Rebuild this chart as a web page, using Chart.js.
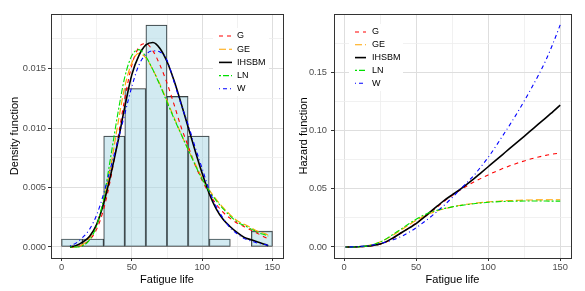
<!DOCTYPE html>
<html>
<head>
<meta charset="utf-8">
<script src="https://cdn.jsdelivr.net/npm/chart.js@4.4.1/dist/chart.umd.min.js"></script>
<style>
  body { margin: 0; background: #fff; }
  #wrap { position: relative; width: 585px; height: 291px; }
  canvas { position: absolute; top: 0; }
  #density { left: 0; }
  #hazard { left: 290px; }
</style>
</head>
<body>
<div id="wrap">
  <canvas id="density" width="290" height="291"></canvas>
  <canvas id="hazard" width="295" height="291"></canvas>
</div>
<script>
// histogram (bin width 15)
const binMids = [7.5, 22.5, 37.5, 52.5, 67.5, 82.5, 97.5, 112.5, 127.5, 142.5];
const binDensity = [0.00067, 0.00067, 0.00933, 0.01333, 0.01867, 0.01267, 0.00933, 0.00067, 0, 0.00133];

// fitted densities
const densX = [6, 10, 15, 20, 25, 30, 35, 40, 45, 50, 55, 60, 65, 70, 75, 80, 85, 90, 95, 100, 105, 110, 115, 120, 125, 130, 135, 140, 145, 147];
const densG = [0, 0, 0.0002, 0.0006, 0.0015, 0.0032, 0.0058, 0.0091, 0.0125, 0.0153, 0.0168, 0.0171, 0.0165, 0.0153, 0.0138, 0.0120, 0.0101, 0.0085, 0.0069, 0.0056, 0.0045, 0.0036, 0.0029, 0.0024, 0.0020, 0.0017, 0.0014, 0.0011, 0.0008, 0.0007];
const densGE = [0, 0, 0.0002, 0.0008, 0.0019, 0.0039, 0.0068, 0.0103, 0.0135, 0.0155, 0.0163, 0.0159, 0.0149, 0.0137, 0.0123, 0.0109, 0.0095, 0.0082, 0.0070, 0.0058, 0.0048, 0.0040, 0.0033, 0.0027, 0.0022, 0.0019, 0.0016, 0.0013, 0.0011, 0.0010];
const densIHSBM = [0, 0.0001, 0.0004, 0.0009, 0.0019, 0.0037, 0.0061, 0.0088, 0.0118, 0.0145, 0.0161, 0.0170, 0.0172, 0.0167, 0.0156, 0.0140, 0.0121, 0.0101, 0.0081, 0.0062, 0.0045, 0.0032, 0.0023, 0.0017, 0.0012, 0.0008, 0.0006, 0.0004, 0.0002, 0.0001];
const densLN = [0, 0, 0.0001, 0.0006, 0.0018, 0.0041, 0.0076, 0.0112, 0.0143, 0.0161, 0.0166, 0.0160, 0.0149, 0.0136, 0.0122, 0.0108, 0.0095, 0.0082, 0.0069, 0.0057, 0.0047, 0.0039, 0.0032, 0.0026, 0.0021, 0.0018, 0.0015, 0.0012, 0.0010, 0.0009];
const densW = [0.0001, 0.0003, 0.0008, 0.0015, 0.0027, 0.0045, 0.0067, 0.0089, 0.0112, 0.0135, 0.0153, 0.0162, 0.0165, 0.0164, 0.0157, 0.0139, 0.0120, 0.0103, 0.0084, 0.0066, 0.0048, 0.0034, 0.0024, 0.0016, 0.0011, 0.0007, 0.0005, 0.0003, 0.0002, 0.0001];

// hazard functions
const hazX = [1, 5, 10, 15, 20, 25, 30, 35, 40, 45, 50, 55, 60, 65, 70, 75, 80, 85, 90, 95, 100, 105, 110, 115, 120, 125, 130, 135, 140, 145, 150];
const hazG = [0, 0, 0.0001, 0.0004, 0.0011, 0.0023, 0.0046, 0.0082, 0.0122, 0.0163, 0.0205, 0.0250, 0.0298, 0.0347, 0.0398, 0.0442, 0.0485, 0.0523, 0.0558, 0.0590, 0.0620, 0.0648, 0.0674, 0.0698, 0.0720, 0.0740, 0.0758, 0.0774, 0.0788, 0.0799, 0.0808];
const hazGE = [0, 0, 0.0003, 0.0010, 0.0022, 0.0042, 0.0072, 0.0110, 0.0150, 0.0190, 0.0228, 0.0262, 0.0290, 0.0312, 0.0330, 0.0345, 0.0357, 0.0367, 0.0375, 0.0382, 0.0388, 0.0392, 0.0396, 0.0399, 0.0401, 0.0403, 0.0404, 0.0405, 0.0405, 0.0406, 0.0406];
const hazIHSBM = [0, 0, 0.0002, 0.0006, 0.0013, 0.0025, 0.0050, 0.0086, 0.0124, 0.0162, 0.0200, 0.0250, 0.0303, 0.0355, 0.0405, 0.0448, 0.0490, 0.0537, 0.0585, 0.0638, 0.0690, 0.0742, 0.0795, 0.0848, 0.0900, 0.0952, 0.1005, 0.1058, 0.1110, 0.1165, 0.1220];
const hazLN = [0, 0, 0.0001, 0.0007, 0.0020, 0.0042, 0.0076, 0.0117, 0.0158, 0.0200, 0.0238, 0.0272, 0.0298, 0.0317, 0.0332, 0.0345, 0.0355, 0.0364, 0.0372, 0.0378, 0.0384, 0.0388, 0.0391, 0.0393, 0.0394, 0.0395, 0.0395, 0.0395, 0.0395, 0.0394, 0.0394];
const hazW = [0, 0.0001, 0.0004, 0.0010, 0.0018, 0.0030, 0.0046, 0.0066, 0.0092, 0.0125, 0.0165, 0.0210, 0.0258, 0.0310, 0.0365, 0.0425, 0.0487, 0.0550, 0.0614, 0.0690, 0.0770, 0.0860, 0.0955, 0.1050, 0.1150, 0.1255, 0.1365, 0.1480, 0.1605, 0.1750, 0.1910];

// axis breaks (major + minor)
const xTicks = [0, 25, 50, 75, 100, 125, 150];
const densTicks = [0, 0.0025, 0.005, 0.0075, 0.01, 0.0125, 0.015, 0.0175];
const hazTicks = [0, 0.025, 0.05, 0.075, 0.1, 0.125, 0.15, 0.175];

const models = ['G', 'GE', 'IHSBM', 'LN', 'W'];

Chart.defaults.font.family = '"Liberation Sans", Arial, sans-serif';
Chart.defaults.animation = false;

const styles = {
  G: { color: '#ff0000', dash: [4, 4], width: 1.1 },
  GE: { color: '#ffa500', dash: [7, 3], width: 1.1 },
  IHSBM: { color: '#000000', dash: [], width: 1.6 },
  LN: { color: '#00e000', dash: [2, 2, 6, 2], width: 1.1 },
  W: { color: '#0000ff', dash: [1, 3, 4, 3], width: 1.1 }
};

function curve(name, xs, ys, idx) {
  const s = styles[name];
  return {
    type: 'line',
    label: name,
    data: xs.map((x, i) => ({ x: x, y: ys[i] })),
    borderColor: s.color,
    borderDash: s.dash,
    borderWidth: s.width,
    pointRadius: 0,
    fill: false,
    cubicInterpolationMode: 'monotone',
    order: 5 - idx
  };
}

function isMul(v, step) {
  const r = v / step;
  return Math.abs(r - Math.round(r)) < 1e-6;
}

function isMajor(c, step) {
  return !c.tick || isMul(c.tick.value, step);
}

function gridOpts(step) {
  return {
    offset: false,
    color: c => isMajor(c, step) ? '#dedede' : '#eeeeee',
    lineWidth: c => isMajor(c, step) ? 1 : 0.8,
    tickColor: c => isMajor(c, step) ? '#333333' : 'rgba(0,0,0,0)',
    tickLength: 3
  };
}

function makeScales(o) {
  return {
    x: {
      type: 'linear', min: o.xMin, max: o.xMax, offset: false,
      afterBuildTicks: s => { s.ticks = xTicks.map(v => ({ value: v })); },
      afterFit: s => { s.height = 33; },
      ticks: {
        autoSkip: false, maxRotation: 0, padding: 1,
        color: '#4d4d4d', font: { size: 9.3 },
        callback: v => isMul(v, 50) ? String(v) : ''
      },
      grid: gridOpts(50),
      border: { display: false },
      title: { display: true, text: 'Fatigue life', color: '#000', font: { size: 11 }, padding: { top: 0, bottom: 4 } }
    },
    y: {
      type: 'linear', min: o.yMin, max: o.yMax,
      afterBuildTicks: s => { s.ticks = o.yTicks.map(v => ({ value: v })); },
      afterFit: s => { s.width = o.yWidth; },
      ticks: {
        autoSkip: false, padding: o.yPad,
        color: '#4d4d4d', font: { size: 9.3 },
        callback: v => isMul(v, o.yStep) ? v.toFixed(o.yDigits) : ''
      },
      grid: gridOpts(o.yStep),
      border: { display: false },
      title: { display: true, text: o.yTitle, color: '#000', font: { size: 11 }, padding: { top: o.titlePad, bottom: 0 } }
    }
  };
}

// legend drawn inside the panel, ggplot style
const insideLegend = {
  id: 'insideLegend',
  afterDraw(chart, args, opts) {
    const ctx = chart.ctx;
    const items = chart.data.datasets.filter(d => d.type === 'line');
    ctx.save();
    ctx.fillStyle = '#ffffff';
    ctx.fillRect(opts.boxX, opts.boxY, opts.boxW, opts.boxH);
    ctx.font = '9px "Liberation Sans", Arial, sans-serif';
    ctx.textBaseline = 'middle';
    items.forEach((d, i) => {
      const y = opts.y0 + i * opts.step;
      ctx.beginPath();
      ctx.setLineDash(d.borderDash);
      ctx.strokeStyle = d.borderColor;
      ctx.lineWidth = d.borderWidth;
      ctx.moveTo(opts.lineX, y);
      ctx.lineTo(opts.lineX + opts.lineW, y);
      ctx.stroke();
      ctx.setLineDash([]);
      ctx.fillStyle = '#000';
      ctx.fillText(d.label, opts.textX, y);
    });
    ctx.restore();
  }
};

const panelBorder = {
  id: 'panelBorder',
  afterDraw(chart) {
    const { ctx, chartArea: a } = chart;
    ctx.save();
    ctx.strokeStyle = '#333333';
    ctx.lineWidth = 1;
    ctx.strokeRect(Math.round(a.left) + 0.5, Math.round(a.top) + 0.5, Math.round(a.right - a.left), Math.round(a.bottom - a.top));
    ctx.restore();
  }
};

// Left panel: histogram + densities
new Chart(document.getElementById('density'), {
  type: 'line',
  data: {
    datasets: models.map((m, i) => curve(m, densX, [densG, densGE, densIHSBM, densLN, densW][i], i)).concat([{
      type: 'bar',
      label: 'hist',
      data: binMids.map((x, i) => ({ x: x, y: binDensity[i] })),
      backgroundColor: 'rgba(173,216,230,0.55)',
      borderColor: '#2a2a2a',
      borderWidth: 0.7,
      borderSkipped: false,
      barPercentage: 1,
      categoryPercentage: 1,
      order: 10
    }])
  },
  options: {
    responsive: false,
    devicePixelRatio: 1,
    layout: { padding: { top: 14, right: 7, left: 0, bottom: 0 } },
    scales: makeScales({ xMin: -7.5, xMax: 157.5, yMin: -0.00093, yMax: 0.0196, yTicks: densTicks, yStep: 0.005, yDigits: 3, yWidth: 51, yPad: 2, yTitle: 'Density function', titlePad: 8 }),
    plugins: {
      legend: { display: false },
      tooltip: { enabled: false },
      insideLegend: { boxX: 213, boxY: 28, boxW: 56, boxH: 68, y0: 36, step: 13.2, lineX: 219, lineW: 13, textX: 237 }
    }
  },
  plugins: [insideLegend, panelBorder]
});

// Right panel: hazard functions
new Chart(document.getElementById('hazard'), {
  type: 'line',
  data: {
    datasets: models.map((m, i) => curve(m, hazX, [hazG, hazGE, hazIHSBM, hazLN, hazW][i], i))
  },
  options: {
    responsive: false,
    devicePixelRatio: 1,
    layout: { padding: { top: 14, right: 14, left: 0, bottom: 0 } },
    scales: makeScales({ xMin: -7, xMax: 157.5, yMin: -0.0095, yMax: 0.2004, yTicks: hazTicks, yStep: 0.05, yDigits: 2, yWidth: 44, yPad: 4, yTitle: 'Hazard function', titlePad: 7 }),
    plugins: {
      legend: { display: false },
      tooltip: { enabled: false },
      insideLegend: { boxX: 59, boxY: 24, boxW: 54, boxH: 67, y0: 32, step: 12.8, lineX: 65, lineW: 11, textX: 82 }
    }
  },
  plugins: [insideLegend, panelBorder]
});
</script>
</body>
</html>
